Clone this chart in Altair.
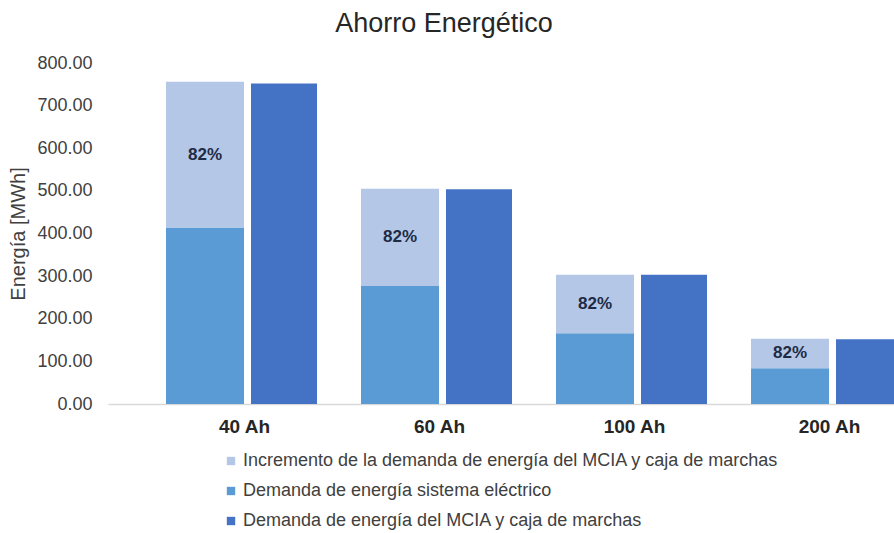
import altair as alt
import pandas as pd

categories = ["40 Ah", "60 Ah", "100 Ah", "200 Ah"]
demanda_electrico = [414, 277, 166, 84]
incremento = [342, 228, 137, 69]
demanda_mcia = [752, 504, 303, 152]
pct_labels = ["82%", "82%", "82%", "82%"]
y_ticks = [0, 100, 200, 300, 400, 500, 600, 700, 800]

s_inc = "Incremento de la demanda de energía del MCIA y caja de marchas"
s_ele = "Demanda de energía sistema eléctrico"
s_mcia = "Demanda de energía del MCIA y caja de marchas"
series = [s_inc, s_ele, s_mcia]
colors = ["#B4C7E7", "#5B9BD5", "#4472C4"]

FONT = "Liberation Sans"

stack_rows = []
for i, c in enumerate(categories):
    stack_rows.append(dict(cat=c, serie=s_ele, valor=demanda_electrico[i], grupo="A", orden=0))
    stack_rows.append(dict(cat=c, serie=s_inc, valor=incremento[i], grupo="A", orden=1))
df_stack = pd.DataFrame(stack_rows)

df_mcia = pd.DataFrame(dict(cat=categories, serie=s_mcia, valor=demanda_mcia, grupo="B"))

df_lab = pd.DataFrame(dict(
    cat=categories,
    grupo="A",
    pos=[e + inc / 2 for e, inc in zip(demanda_electrico, incremento)],
    txt=pct_labels,
))

x_enc = alt.X(
    "cat:N",
    sort=categories,
    scale=alt.Scale(range=[0, 796], paddingInner=0.236, paddingOuter=0.159, align=1),
    axis=alt.Axis(
        title=None, labelAngle=0, ticks=False, grid=False,
        domainColor="#d9d9d9", domainWidth=1.5,
        labelFontSize=19, labelFontWeight="bold", labelColor="#262626",
        labelPadding=13, labelFont=FONT,
    ),
)
xo_enc = alt.XOffset("grupo:N", scale=alt.Scale(domain=["A", "B"], paddingInner=0.114, paddingOuter=0))

y_scale = alt.Scale(domain=[0, 800])
y_axis = alt.Axis(
    values=y_ticks, format=".2f", title="Energía [MWh]", grid=False, domain=False,
    ticks=False, labelFontSize=18, labelColor="#404040", labelPadding=16, labelFont=FONT,
    titleFontSize=20, titleFontWeight="normal", titleColor="#404040", titlePadding=8,
    titleFont=FONT,
)

color_enc = alt.Color(
    "serie:N",
    scale=alt.Scale(domain=series, range=colors),
    legend=alt.Legend(
        orient="none", legendX=114, legendY=389, direction="vertical", title=None,
        symbolType="square", symbolSize=70, symbolStrokeWidth=0, labelFontSize=18,
        labelColor="#404040", labelFont=FONT, rowPadding=12, labelLimit=0, labelOffset=3,
    ),
)

stacked = alt.Chart(df_stack).mark_bar(width=78).encode(
    x=x_enc,
    xOffset=xo_enc,
    y=alt.Y("valor:Q", stack="zero", scale=y_scale, axis=y_axis),
    color=color_enc,
    order=alt.Order("orden:Q"),
)

mcia = alt.Chart(df_mcia).mark_bar(width=66).encode(
    x=x_enc,
    xOffset=xo_enc,
    y=alt.Y("valor:Q", scale=y_scale, axis=y_axis),
    color=color_enc,
)

labels = alt.Chart(df_lab).mark_text(
    fontSize=17, fontWeight="bold", color="#1e2b45", font=FONT
).encode(
    x=x_enc,
    xOffset=xo_enc,
    y=alt.Y("pos:Q", scale=y_scale, axis=y_axis),
    text="txt:N",
)

chart = alt.layer(stacked, mcia, labels).properties(
    width=786,
    height=341,
    autosize=alt.AutoSizeParams(type="none"),
    padding={"left": 108, "top": 63, "right": 0, "bottom": 129},
    title=alt.TitleParams(
        "Ahorro Energético", fontSize=27, fontWeight="normal", color="#262626",
        font=FONT, anchor="middle", dx=-57, offset=16,
    ),
).configure(font=FONT).configure_view(stroke=None, strokeWidth=0)

chart.save("out.html", embed_options={"renderer": "svg", "actions": False})
